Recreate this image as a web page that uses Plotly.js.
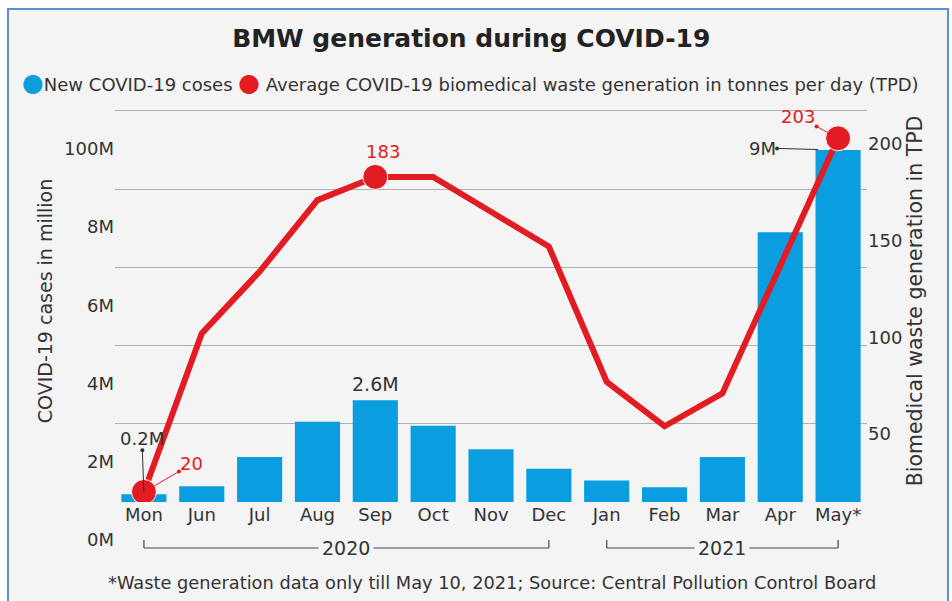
<!DOCTYPE html>
<html><head><meta charset="utf-8">
<script src="https://cdn.plot.ly/plotly-3.0.1.min.js"></script>
<style>
html,body{margin:0;padding:0;background:#fff;}
#frame{position:absolute;left:7px;top:8px;width:942px;height:600px;background:#f4f4f4;border:2px solid #5f8fd3;border-bottom:none;box-sizing:border-box;}
#chart{position:absolute;left:0;top:0;width:952px;height:601px;}
</style></head><body>
<div id="frame"></div><div id="chart"></div>
<script>
const months = ['Mon','Jun','Jul','Aug','Sep','Oct','Nov','Dec','Jan','Feb','Mar','Apr','May*'];
const newCases = [0.2,0.4,1.15,2.05,2.6,1.95,1.35,0.85,0.55,0.38,1.15,6.9,9.0];
const wasteTPD = [20,102,134,171,183,183,165,147,77,54,71,137,203];
const highlighted = ['Mon','Sep','May*'];
const leftTickVals = [0,2,4,6,8,10];
const leftTickText = ['0M','2M','4M','6M','8M','100M'];
const gridVals = [2,4,6,8,10];
const rightTickVals = [50,100,150,200];
const years = [{label:'2020', from:'Mon', to:'Dec'},{label:'2021', from:'Jan', to:'May*'}];

const FONT = 'DejaVu Sans, Lato, sans-serif';
const TXT = '#333333';
const BLUE = '#0a9de0';
const RED = '#e31b23';

const bars = {
  type:'bar', x:months, y:newCases, name:'New COVID-19 coses',
  marker:{color:BLUE}, width:0.78, hoverinfo:'x+y', showlegend:false
};
const line = {
  type:'scatter', mode:'lines+markers', x:months, y:wasteTPD, yaxis:'y2',
  name:'Average COVID-19 biomedical waste generation in tonnes per day (TPD)',
  line:{color:RED, width:6},
  marker:{color:RED, opacity:1, size:months.map(m => highlighted.includes(m) ? 25 : 0)},
  showlegend:false
};

const toPaperY = px => (502 - px) / 402;
const toPaperX = px => (px - 115) / 752;

const shapes = [];
const annotations = [];
years.forEach(yr => {
  const yLow = toPaperY(548), yHigh = toPaperY(540);
  const ln = {color:'#444', width:1.2};
  shapes.push({type:'line', xref:'x', yref:'paper', x0:yr.from, x1:yr.to, y0:yLow, y1:yLow, line:ln});
  shapes.push({type:'line', xref:'x', yref:'paper', x0:yr.from, x1:yr.from, y0:yLow, y1:yHigh, line:ln});
  shapes.push({type:'line', xref:'x', yref:'paper', x0:yr.to, x1:yr.to, y0:yLow, y1:yHigh, line:ln});
  annotations.push({xref:'x', yref:'paper', x:(months.indexOf(yr.from)+months.indexOf(yr.to))/2, y:yLow,
    text:yr.label, showarrow:false, bgcolor:'#f4f4f4', borderpad:3, xanchor:'center', yanchor:'middle',
    font:{family:FONT, size:19, color:TXT}});
});

annotations.push({xref:'paper', yref:'paper', x:toPaperX(20), y:toPaperY(83), xanchor:'left', yanchor:'middle', showarrow:false,
  text:"<span style='color:"+BLUE+";font-size:25px'>●</span>New COVID-19 coses <span style='color:"+RED+";font-size:25px'>●</span> Average COVID-19 biomedical waste generation in tonnes per day (TPD)",
  font:{family:FONT, size:18, color:TXT}});
annotations.push({xref:'paper', yref:'paper', x:toPaperX(492), y:toPaperY(582), xanchor:'center', yanchor:'middle', showarrow:false,
  text:'*Waste generation data only till May 10, 2021; Source: Central Pollution Control Board',
  font:{family:FONT, size:17.8, color:TXT}});

// value labels
const iSep = months.indexOf('Sep'), iMay = months.indexOf('May*'), iMon = months.indexOf('Mon');
annotations.push({xref:'x', yref:'y', x:months[iSep], y:newCases[iSep], text:newCases[iSep]+'M', showarrow:false,
  yanchor:'bottom', yshift:3, font:{family:FONT, size:19, color:TXT}});
annotations.push({xref:'x', yref:'y2', x:months[iSep], y:wasteTPD[iSep], text:String(wasteTPD[iSep]), showarrow:false,
  xshift:8, yanchor:'bottom', yshift:13, font:{family:FONT, size:18, color:RED}});
annotations.push({xref:'x', yref:'y', x:months[iMon], y:newCases[iMon], text:newCases[iMon]+'M', showarrow:true,
  ax:-2, ay:-56, arrowside:'start', startarrowhead:6, startarrowsize:1, arrowwidth:1, arrowcolor:'#333', standoff:2, startstandoff:0,
  font:{family:FONT, size:18, color:TXT}});
annotations.push({xref:'x', yref:'y2', x:months[iMon], y:wasteTPD[iMon], text:String(wasteTPD[iMon]), showarrow:true,
  ax:48, ay:-28, arrowside:'start', startarrowhead:6, startarrowsize:1, arrowwidth:1, arrowcolor:RED, standoff:12,
  font:{family:FONT, size:18, color:RED}});
annotations.push({xref:'x', yref:'y', x:months[iMay], y:newCases[iMay], text:newCases[iMay]+'M', showarrow:true,
  ax:-76, ay:-2, arrowside:'start', startarrowhead:6, startarrowsize:1, arrowwidth:1, arrowcolor:'#333', standoff:20,
  font:{family:FONT, size:18, color:TXT}});
annotations.push({xref:'x', yref:'y2', x:months[iMay], y:wasteTPD[iMay], text:String(wasteTPD[iMay]), showarrow:true,
  ax:-40, ay:-22, arrowside:'start', startarrowhead:6, startarrowsize:1, arrowwidth:1, arrowcolor:RED, standoff:12,
  font:{family:FONT, size:18, color:RED}});

const layout = {
  width:952, height:601,
  paper_bgcolor:'rgba(0,0,0,0)', plot_bgcolor:'rgba(0,0,0,0)',
  margin:{l:115, r:85, t:100, b:99},
  font:{family:FONT, color:TXT},
  title:{text:'<b>BMW generation during COVID-19</b>', x:0.495, xref:'container', y:1-38/601, yref:'container',
    xanchor:'center', yanchor:'middle', font:{family:FONT, size:25, color:'#222'}},
  showlegend:false,
  xaxis:{type:'category', range:[-0.5,12.5], showgrid:false, zeroline:false, showline:false, ticks:'',
    tickfont:{family:FONT, size:18, color:TXT}, fixedrange:true},
  yaxis:{range:[0,10.28], tickvals:leftTickVals, ticktext:leftTickText, showgrid:false, zeroline:false, showline:false,
    ticks:'', ticklabelshift:38, tickfont:{family:FONT, size:18, color:TXT},
    minor:{tickvals:gridVals, showgrid:true, gridcolor:'#b0b0b0', gridwidth:1, ticks:''},
    title:{text:'COVID-19 cases in million', font:{family:FONT, size:19, color:TXT}, standoff:6}},
  yaxis2:{overlaying:'y', side:'right', range:[14.8,222.8], tickvals:rightTickVals, showgrid:false, zeroline:false,
    showline:false, ticks:'', tickfont:{family:FONT, size:18, color:TXT},
    title:{text:'Biomedical waste generation in TPD', font:{family:FONT, size:20.5, color:TXT}, standoff:6}},
  shapes:shapes, annotations:annotations
};

Plotly.newPlot('chart', [bars, line], layout, {displayModeBar:false, staticPlot:true});
</script>
</body></html>
